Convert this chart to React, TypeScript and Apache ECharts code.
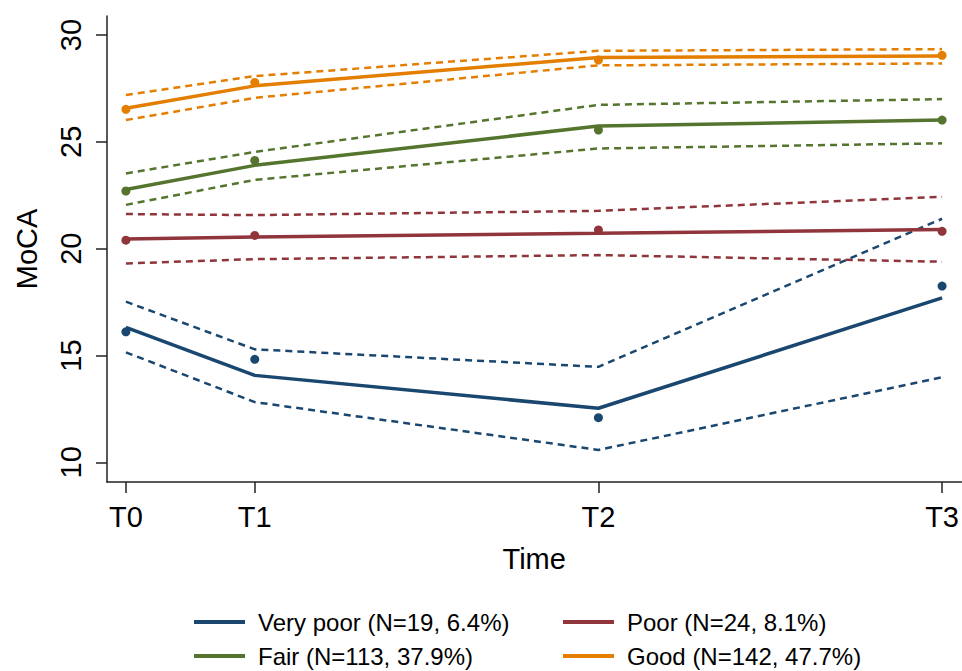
import React, { useEffect, useRef } from "react";
import * as echarts from "echarts";

const times = [0, 3, 11, 19];
const tickLabels = ["T0", "T1", "T2", "T3"];
const yTicks = [10, 15, 20, 25, 30];

const groupNames = [
  "Very poor (N=19, 6.4%)",
  "Poor (N=24, 8.1%)",
  "Fair (N=113, 37.9%)",
  "Good (N=142, 47.7%)",
];
const groupColors = ["#1A476F", "#90353B", "#55752F", "#E37E00"];

const veryPoorFit = [16.32, 14.07, 12.53, 17.7];
const veryPoorUpper = [17.52, 15.29, 14.47, 21.4];
const veryPoorLower = [15.15, 12.82, 10.58, 13.98];
const veryPoorObs = [16.11, 14.82, 12.09, 18.25];

const poorFit = [20.45, 20.55, 20.72, 20.9];
const poorUpper = [21.62, 21.57, 21.77, 22.43];
const poorLower = [19.31, 19.51, 19.7, 19.39];
const poorObs = [20.4, 20.62, 20.88, 20.81];

const fairFit = [22.77, 23.9, 25.74, 26.02];
const fairUpper = [23.52, 24.53, 26.73, 27.0];
const fairLower = [22.05, 23.22, 24.69, 24.93];
const fairObs = [22.7, 24.13, 25.55, 26.02];

const goodFit = [26.57, 27.62, 28.95, 29.02];
const goodUpper = [27.19, 28.08, 29.26, 29.34];
const goodLower = [26.02, 27.06, 28.58, 28.67];
const goodObs = [26.52, 27.78, 28.83, 29.05];

const fits = [veryPoorFit, poorFit, fairFit, goodFit];
const uppers = [veryPoorUpper, poorUpper, fairUpper, goodUpper];
const lowers = [veryPoorLower, poorLower, fairLower, goodLower];
const observed = [veryPoorObs, poorObs, fairObs, goodObs];

const FONT = "'Liberation Sans', Arial, sans-serif";

const pts = (ys: number[]) => times.map((t, i) => [t, ys[i]]);

export default function App() {
  const ref = useRef<HTMLDivElement>(null);

  useEffect(() => {
    if (!ref.current) return;
    const chart = echarts.init(ref.current, undefined, { renderer: "svg" });

    const series: any[] = [];
    groupNames.forEach((name, g) => {
      const color = groupColors[g];
      [uppers[g], lowers[g]].forEach((ci, k) => {
        series.push({
          type: "line",
          name: name + (k === 0 ? " upper" : " lower"),
          data: pts(ci),
          symbol: "none",
          lineStyle: { color, width: 2.5, type: [7, 5] },
          itemStyle: { color },
          z: 2,
          silent: true,
        });
      });
      series.push({
        type: "line",
        name,
        data: pts(fits[g]),
        symbol: "none",
        lineStyle: { color, width: 3.5 },
        itemStyle: { color },
        z: 3,
      });
      series.push({
        type: "scatter",
        name: name + " obs",
        data: pts(observed[g]),
        symbol: "circle",
        symbolSize: 9,
        itemStyle: { color, opacity: 1 },
        z: 4,
      });
    });

    const legendCommon = {
      orient: "vertical",
      top: 609,
      padding: 0,
      itemWidth: 51,
      itemHeight: 4,
      itemGap: 8,
      icon: "rect",
      textStyle: {
        fontSize: 24,
        fontFamily: FONT,
        color: "#000",
        lineHeight: 26,
        padding: [0, 0, 0, 8],
      },
    };

    chart.setOption({
      animation: false,
      backgroundColor: "#fff",
      grid: { left: 107, top: 16, right: 0, bottom: 189, containLabel: false },
      legend: [
        { ...legendCommon, left: 194, data: [groupNames[0], groupNames[2]] },
        { ...legendCommon, left: 563, data: [groupNames[1], groupNames[3]] },
      ],
      xAxis: {
        type: "value",
        min: -0.44,
        max: 19.45,
        name: "Time",
        nameLocation: "middle",
        nameGap: 62,
        nameTextStyle: { fontSize: 29, fontFamily: FONT, color: "#000" },
        axisLine: { show: true, onZero: false, lineStyle: { color: "#222", width: 1.5 } },
        axisTick: { show: true, length: 11, customValues: times, lineStyle: { color: "#222", width: 1.5 } },
        axisLabel: {
          customValues: times,
          formatter: (v: number) => tickLabels[times.indexOf(v)] ?? "",
          fontSize: 29,
          fontFamily: FONT,
          color: "#000",
          margin: 20,
        },
        splitLine: { show: false },
      },
      yAxis: {
        type: "value",
        min: 9.08,
        max: 30.89,
        name: "MoCA",
        nameLocation: "middle",
        nameRotate: 90,
        nameGap: 66,
        nameTextStyle: { fontSize: 29, fontFamily: FONT, color: "#000" },
        axisLine: { show: true, onZero: false, lineStyle: { color: "#222", width: 1.5 } },
        axisTick: { show: true, length: 11, customValues: yTicks, lineStyle: { color: "#222", width: 1.5 } },
        axisLabel: {
          customValues: yTicks,
          rotate: 90,
          fontSize: 29,
          fontFamily: FONT,
          color: "#000",
          margin: 22,
        },
        splitLine: { show: false },
      },
      series,
    });

    return () => chart.dispose();
  }, []);

  return (
    <div
      ref={ref}
      style={{ position: "absolute", left: 0, top: 0, width: 962, height: 671 }}
    />
  );
}
